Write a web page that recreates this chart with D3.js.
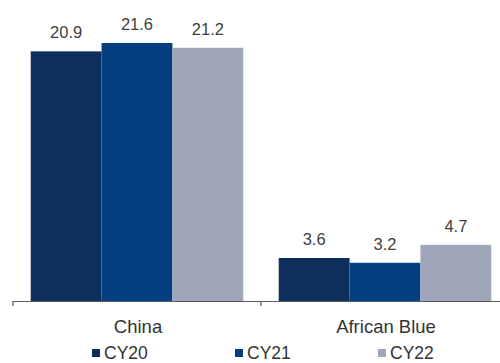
<!DOCTYPE html>
<html>
<head>
<meta charset="utf-8">
<script src="https://cdn.jsdelivr.net/npm/d3@7"></script>
<style>
  body { margin: 0; background: #fff; }
  text { font-family: "Liberation Sans", Arial, sans-serif; }
</style>
</head>
<body>
<svg id="chart"></svg>
<script>
// data
var categories = ["China", "African Blue"];
var seriesNames = ["CY20", "CY21", "CY22"];
var cy20 = [20.9, 3.6];
var cy21 = [21.6, 3.2];
var cy22 = [21.2, 4.7];

var colors = ["#0e2f5c", "#053f7f", "#a0a6b9"];

var width = 500, height = 363;
var svg = d3.select("#chart").attr("width", width).attr("height", height);

var x0 = d3.scaleBand().domain(categories).range([13, 509]).paddingInner(0).paddingOuter(0);
var x1 = d3.scaleBand().domain(seriesNames).range([0, x0.bandwidth()]).paddingInner(0).paddingOuter(0.25);
var y = d3.scaleLinear().domain([0, 21.6]).range([301, 43]);

var values = [cy20, cy21, cy22];
var rows = [];
categories.forEach(function(c, i) {
  seriesNames.forEach(function(s, j) {
    rows.push({cat: c, series: s, value: values[j][i], k: j});
  });
});

var g = svg.append("g");

g.selectAll("rect.bar")
  .data(rows)
.enter().append("rect")
  .attr("class", "bar")
  .attr("x", function(d) { return x0(d.cat) + x1(d.series); })
  .attr("y", function(d) { return y(d.value); })
  .attr("width", x1.bandwidth())
  .attr("height", function(d) { return y(0) - y(d.value); })
  .attr("fill", function(d) { return colors[d.k]; });

g.selectAll("text.val")
  .data(rows)
.enter().append("text")
  .attr("class", "val")
  .attr("x", function(d) { return x0(d.cat) + x1(d.series) + x1.bandwidth() / 2; })
  .attr("y", function(d) { return y(d.value) - 13; })
  .attr("text-anchor", "middle")
  .attr("font-size", 16.5)
  .attr("fill", "#404040")
  .text(function(d) { return d.value.toFixed(1); });

// x axis
var axis = d3.axisBottom(x0).tickSize(0).tickPadding(0);
var ax = svg.append("g").attr("transform", "translate(0,301)").call(axis);
ax.select(".domain").remove();
ax.selectAll(".tick text").remove();
ax.append("line").attr("x1", 13).attr("x2", 509).attr("y1", 0.5).attr("y2", 0.5)
  .attr("stroke", "#5a5a5a").attr("stroke-width", 1.2);
ax.selectAll("line.edge")
  .data([13, 261, 509])
.enter().append("line")
  .attr("class", "edge")
  .attr("x1", function(d) { return d; }).attr("x2", function(d) { return d; })
  .attr("y1", 0).attr("y2", 5)
  .attr("stroke", "#5a5a5a").attr("stroke-width", 1.2);

svg.append("g").selectAll("text.cat")
  .data(categories)
.enter().append("text")
  .attr("class", "cat")
  .attr("x", function(d) { return x0(d) + x0.bandwidth() / 2 + 1; })
  .attr("y", 333)
  .attr("text-anchor", "middle")
  .attr("font-size", 18.5)
  .attr("fill", "#333")
  .text(function(d) { return d; });

// legend
var legendX = [92, 235, 378];
var leg = svg.append("g").selectAll("g")
  .data(seriesNames)
.enter().append("g")
  .attr("transform", function(d, i) { return "translate(" + legendX[i] + ",353)"; });
leg.append("rect")
  .attr("x", 0).attr("y", -4).attr("width", 8).attr("height", 8)
  .attr("fill", function(d, i) { return colors[i]; });
leg.append("text")
  .attr("x", 12).attr("y", 6)
  .attr("font-size", 17.5)
  .attr("fill", "#333")
  .text(function(d) { return d; });
</script>
</body>
</html>
